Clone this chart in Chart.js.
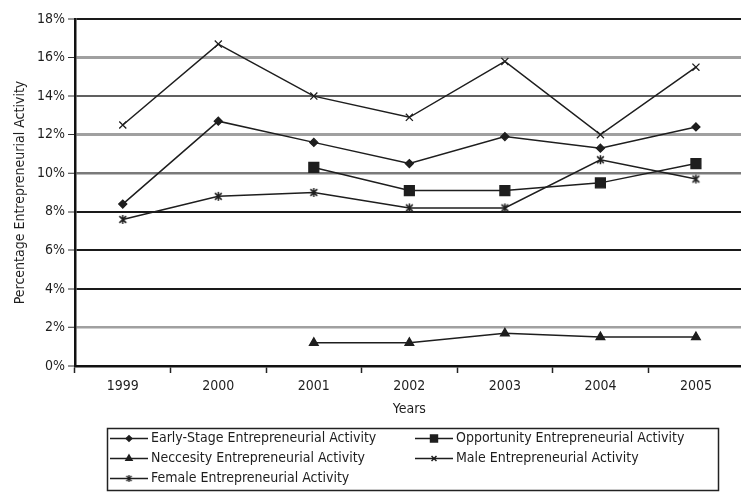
<!DOCTYPE html>
<html>
<head>
<meta charset="utf-8">
<script src="https://cdn.jsdelivr.net/npm/chart.js@4.4.1/dist/chart.umd.min.js"></script>
<style>
  html, body { margin: 0; padding: 0; background: #fff; overflow: hidden; }
  #wrap { width: 752px; height: 493px; position: relative; }
</style>
</head>
<body>
<div id="wrap"><canvas id="c" width="752" height="493"></canvas></div>
<script>
// Entrepreneurial activity rates (% of adult population), 1999–2005
const years       = ['1999', '2000', '2001', '2002', '2003', '2004', '2005'];
const earlyStage  = [8.4, 12.7, 11.6, 10.5, 11.9, 11.3, 12.4];
const opportunity = [null, null, 10.3, 9.1, 9.1, 9.5, 10.5];
const necessity   = [null, null, 1.2, 1.2, 1.7, 1.5, 1.5];
const male        = [12.5, 16.7, 14.0, 12.9, 15.8, 12.0, 15.5];
const female      = [7.6, 8.8, 9.0, 8.2, 8.2, 10.7, 9.7];
const yTickValues = [0, 2, 4, 6, 8, 10, 12, 14, 16, 18];

const FONT = "'DejaVu Sans Condensed', 'Liberation Sans Narrow', 'Arial Narrow', sans-serif";
const INK = '#1e1e1e';

// Asterisk-like marker: an x crossed by a vertical stroke
function asteriskMarker(size, lw) {
  const c = document.createElement('canvas');
  c.width = c.height = size;
  const g = c.getContext('2d');
  g.strokeStyle = INK;
  g.lineWidth = lw;
  const m = size / 2, r = size / 2 - 1, d = r * 0.75;
  g.beginPath();
  g.moveTo(m - d, m - d); g.lineTo(m + d, m + d);
  g.moveTo(m + d, m - d); g.lineTo(m - d, m + d);
  g.moveTo(m, m - r); g.lineTo(m, m + r);
  g.stroke();
  return c;
}
const femaleMark = asteriskMarker(11, 1.5);
const femaleMarkSmall = asteriskMarker(9, 1.3);

// Gridline tones per tick value
const gridTone = { 16: '#a0a0a0', 12: '#a0a0a0', 2: '#a0a0a0', 14: '#606060', 10: '#7a7a7a' };
const gridWidth = { 16: 3, 12: 3, 2: 2.5, 14: 2, 10: 2.5 };

function series(label, data, style, radius, extra) {
  return Object.assign({
    label, data,
    borderColor: INK,
    backgroundColor: INK,
    borderWidth: 1.5,
    pointStyle: style,
    pointRadius: radius,
    pointBorderWidth: 1.3,
    pointBackgroundColor: INK,
    pointBorderColor: INK,
    spanGaps: false,
    tension: 0
  }, extra || {});
}

const datasets = [
  series('Early-Stage Entrepreneurial Activity', earlyStage, 'rectRot', 4),
  series('Opportunity Entrepreneurial Activity', opportunity, 'rect', 7),
  series('Neccesity Entrepreneurial Activity', necessity, 'triangle', 5),
  series('Male Entrepreneurial Activity', male, 'crossRot', 5),
  series('Female Entrepreneurial Activity', female, femaleMark, 5, { legendMark: femaleMarkSmall })
];

// Boxed two-column legend under the axis
const boxLegend = {
  id: 'boxLegend',
  afterDraw(chart) {
    const ctx = chart.ctx;
    const H = Chart.helpers;
    ctx.save();
    ctx.strokeStyle = '#222';
    ctx.lineWidth = 1.5;
    ctx.strokeRect(107.5, 428.5, 611, 62);
    ctx.font = '14px ' + FONT;
    ctx.textBaseline = 'middle';
    ctx.textAlign = 'left';
    chart.data.datasets.forEach((ds, i) => {
      const col = i % 2, row = Math.floor(i / 2);
      const x = col ? 415 : 110;
      const y = 438.5 + row * 20;
      ctx.strokeStyle = ds.borderColor;
      ctx.fillStyle = ds.backgroundColor;
      ctx.lineWidth = 1.5;
      ctx.beginPath();
      ctx.moveTo(x, y); ctx.lineTo(x + 38, y);
      ctx.stroke();
      const style = ds.legendMark || ds.pointStyle;
      H.drawPoint(ctx, { pointStyle: style, radius: ds.pointRadius * 0.7, borderWidth: 1.2, rotation: 0 }, x + 19, y);
      ctx.fillStyle = INK;
      ctx.fillText(ds.label, x + 41, y);
    });
    ctx.restore();
  }
};

new Chart(document.getElementById('c'), {
  type: 'line',
  data: { labels: years, datasets },
  options: {
    responsive: false,
    animation: false,
    devicePixelRatio: 1,
    layout: { padding: { top: 19, right: 2, left: 0, bottom: 0 } },
    plugins: { legend: { display: false }, tooltip: { enabled: false } },
    scales: {
      x: {
        offset: true,
        afterFit(scale) { scale.height = 127; },
        grid: { drawOnChartArea: false, drawTicks: true, tickLength: 7, tickColor: '#222', tickWidth: 1.5, offset: true },
        border: { display: true, color: '#111', width: 2.5 },
        ticks: { color: INK, font: { family: FONT, size: 14 }, padding: 5, maxRotation: 0 },
        title: { display: true, text: 'Years', color: INK, font: { family: FONT, size: 14 }, padding: { top: 4, bottom: 75 } }
      },
      y: {
        min: 0, max: 18,
        afterFit(scale) { scale.width = 75; },
        afterBuildTicks(scale) { scale.ticks = yTickValues.map(v => ({ value: v })); },
        grid: {
          color: ctx => gridTone[ctx.tick.value] || '#1a1a1a',
          lineWidth: ctx => gridWidth[ctx.tick.value] || 2,
          drawTicks: true, tickLength: 7, tickColor: '#333', tickWidth: 1
        },
        border: { display: true, color: '#111', width: 2.5 },
        ticks: {
          color: INK, font: { family: FONT, size: 14 }, padding: 3,
          callback: v => v + '%'
        },
        title: { display: true, text: 'Percentage Entrepreneurial Activity', color: INK, font: { family: FONT, size: 14 }, padding: { top: 12 } }
      }
    }
  },
  plugins: [boxLegend]
});
</script>
</body>
</html>
